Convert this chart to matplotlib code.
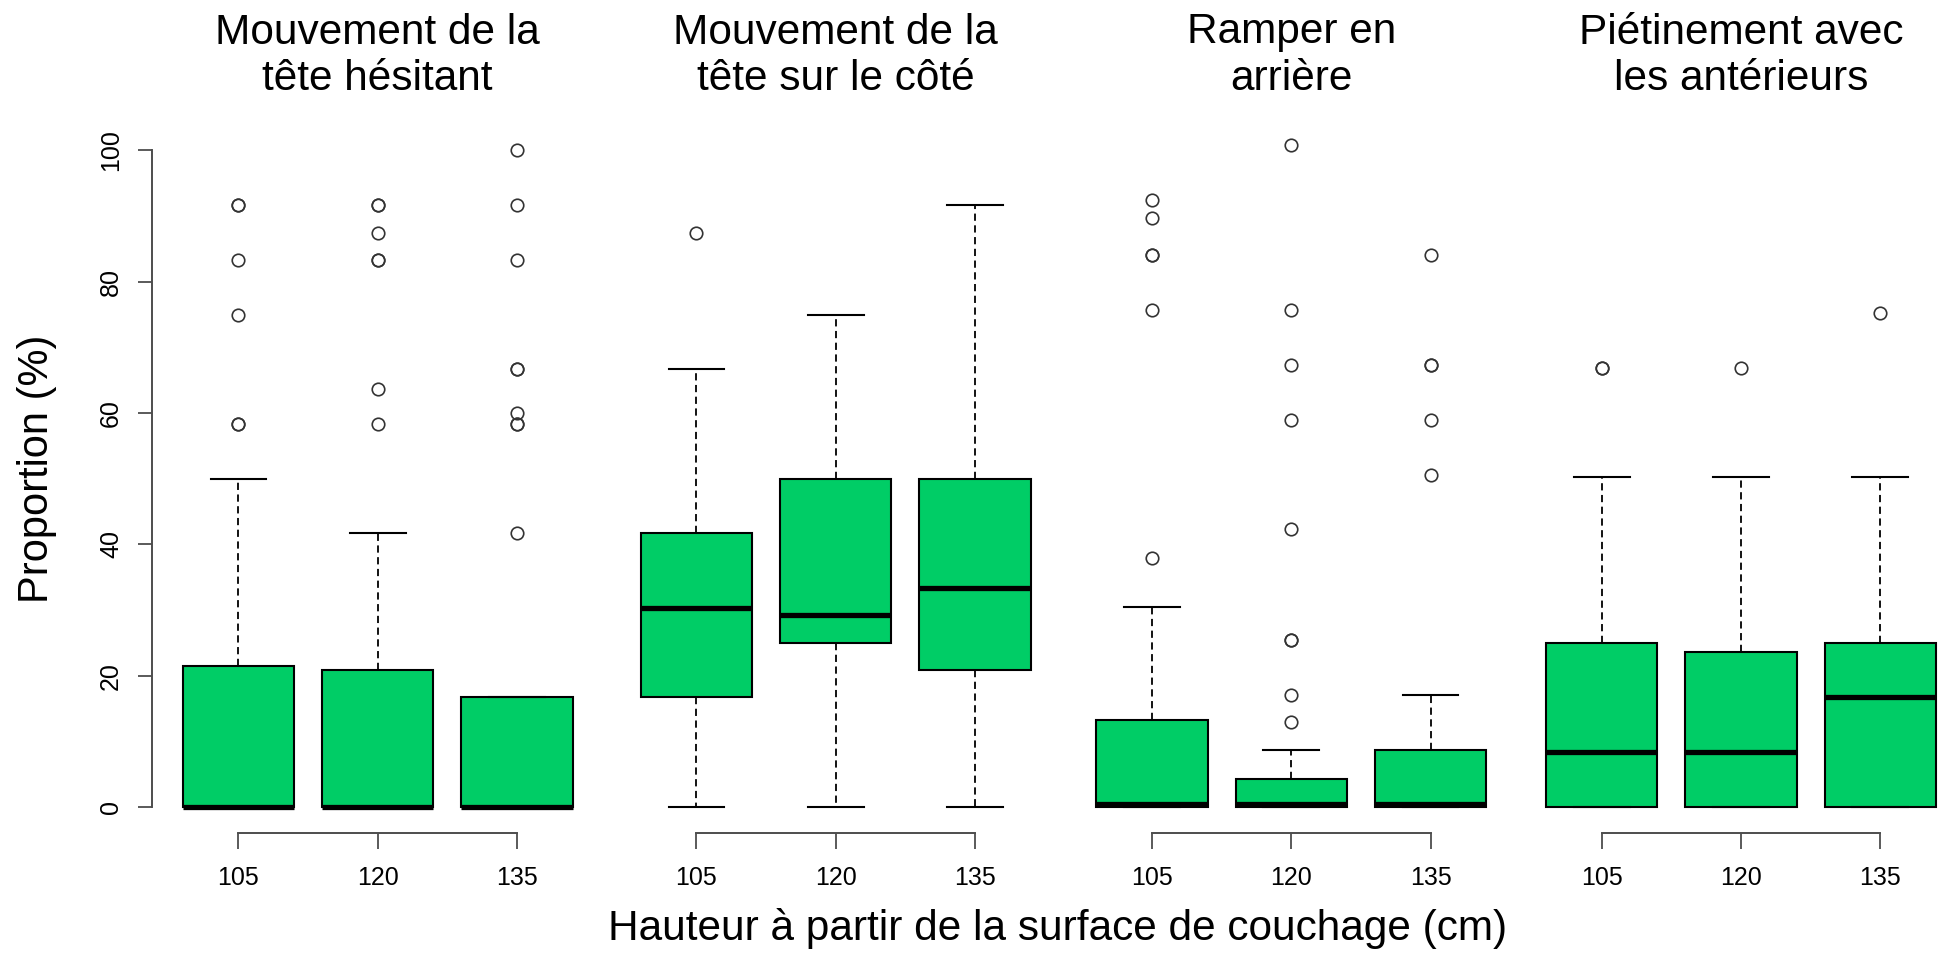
import matplotlib
matplotlib.use("Agg")
import matplotlib.pyplot as plt

plt.rcParams['font.family'] = ['Liberation Sans', 'DejaVu Sans']

# ---------------- data ----------------
heights = ["105", "120", "135"]

titles = [
    ("Mouvement de la", "tête hésitant"),
    ("Mouvement de la", "tête sur le côté"),
    ("Ramper en", "arrière"),
    ("Piétinement avec", "les antérieurs"),
]

# one inner list per panel, one value per height (105, 120, 135)
q1 = [[0, 0, 0], [16.7, 25.0, 20.8], [0, 0, 0], [0, 0, 0]]
medians = [[0, 0, 0], [30.3, 29.2, 33.3], [0.4, 0.4, 0.4], [8.4, 8.4, 16.7]]
q3 = [[21.5, 20.8, 16.7], [41.7, 50.0, 50.0], [13.2, 4.3, 8.7], [25.0, 23.6, 25.0]]
whisk_lo = [[0, 0, 0], [0, 0, 0], [0, 0, 0], [0, 0, 0]]
whisk_hi = [[50.0, 41.7, 16.7], [66.7, 75.0, 91.7], [30.5, 8.7, 17.1], [50.2, 50.2, 50.2]]

outliers = [
    [[58.3, 58.3, 75.0, 83.3, 91.7, 91.7],
     [58.3, 63.6, 83.3, 83.3, 87.5, 91.7, 91.7],
     [41.7, 58.3, 58.3, 60.0, 66.7, 66.7, 83.3, 91.7, 100.0]],
    [[87.5], [], []],
    [[38.0, 75.7, 84.1, 84.1, 89.7, 92.5],
     [12.9, 17.1, 25.5, 25.5, 42.3, 58.9, 67.3, 75.7, 100.9],
     [50.5, 58.9, 67.3, 67.3, 84.1]],
    [[66.8, 66.8], [66.8], [75.2]],
]

y_ticks = [0, 20, 40, 60, 80, 100]
y_label = "Proportion (%)"
x_label = "Hauteur à partir de la surface de couchage (cm)"

# ---------------- layout ----------------
W, H = 1946, 965
fig = plt.figure(figsize=(W / 100, H / 100), dpi=100)

panel_left_px = [152.1, 610.0, 1065.6, 1515.3]
panel_w_px = 451.3
ax_top_px, ax_bot_px = 124.2, 833.3

GREEN = "#00CD66"
AXC = "#4d4d4d"

axes = []
for i in range(4):
    ax = fig.add_axes([panel_left_px[i] / W, 1 - ax_bot_px / H,
                       panel_w_px / W, (ax_bot_px - ax_top_px) / H])
    stats = []
    for j in range(3):
        stats.append(dict(med=medians[i][j], q1=q1[i][j], q3=q3[i][j],
                          whislo=whisk_lo[i][j], whishi=whisk_hi[i][j],
                          fliers=outliers[i][j]))
    ax.bxp(stats, positions=[1, 2, 3], widths=0.8, capwidths=0.4,
           patch_artist=True, manage_ticks=False,
           boxprops=dict(facecolor=GREEN, edgecolor="black", linewidth=1.5),
           whiskerprops=dict(color="black", linewidth=1.3, linestyle=(0, (4, 2.5))),
           capprops=dict(color="black", linewidth=1.5),
           medianprops=dict(color="black", linewidth=3.8, solid_capstyle="butt"),
           flierprops=dict(marker="o", markerfacecolor="none",
                           markeredgecolor="#333333", markersize=9,
                           markeredgewidth=1.2, linestyle="none"))
    ax.set_xlim(0.38, 3.62)
    ax.set_ylim(-4, 104)
    for s in ["top", "right"]:
        ax.spines[s].set_visible(False)
    ax.spines["bottom"].set_bounds(1, 3)
    ax.spines["bottom"].set_color(AXC)
    ax.spines["bottom"].set_linewidth(1.4)
    ax.set_xticks([1, 2, 3])
    ax.set_xticklabels(heights)
    ax.tick_params(axis="x", length=11.5, width=1.3, color=AXC,
                   labelsize=18, pad=12)
    if i == 0:
        ax.spines["left"].set_bounds(0, 100)
        ax.spines["left"].set_color(AXC)
        ax.spines["left"].set_linewidth(1.4)
        ax.set_yticks(y_ticks)
        ax.set_yticklabels([str(v) for v in y_ticks])
        ax.tick_params(axis="y", length=10, width=1.3, color=AXC,
                       labelsize=18, pad=11)
        plt.setp(ax.get_yticklabels(), rotation=90, va="center", ha="right")
    else:
        ax.spines["left"].set_visible(False)
        ax.set_yticks([])
    ax.patch.set_alpha(0)
    axes.append(ax)

    # two-line title centred over middle box
    cx = (panel_left_px[i] + panel_w_px * (2 - 0.38) / 3.24) / W
    fig.text(cx, 1 - 43.5 / H, titles[i][0], ha="center", va="baseline",
             fontsize=30.5)
    fig.text(cx, 1 - 90.0 / H, titles[i][1], ha="center", va="baseline",
             fontsize=30.5)

fig.text(37 / W, 1 - 469 / H, y_label, rotation=90, ha="center", va="center",
         fontsize=30)
fig.text(1057.5 / W, 1 - 940 / H, x_label, ha="center", va="baseline",
         fontsize=30.5)

fig.savefig("out.png", dpi=100, facecolor="white")
